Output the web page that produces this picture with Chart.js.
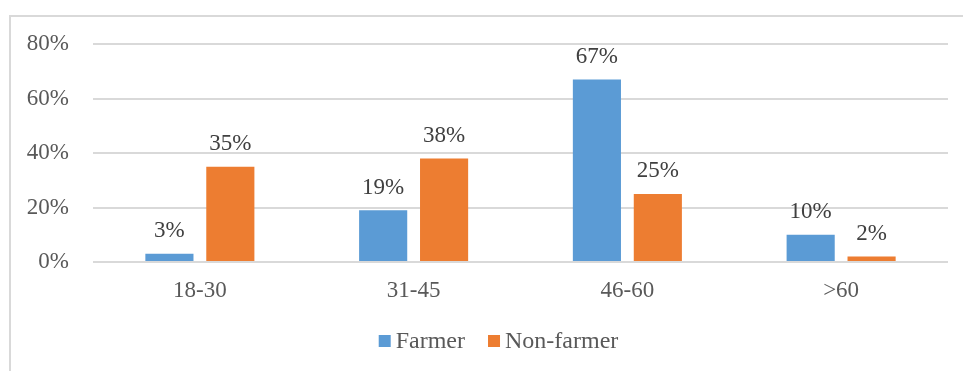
<!DOCTYPE html>
<html>
<head>
<meta charset="utf-8">
<script src="https://cdn.jsdelivr.net/npm/chart.js@4/dist/chart.umd.min.js"></script>
<style>
  html, body { margin: 0; padding: 0; background: #fff; }
  #wrap { width: 963px; height: 371px; position: relative; }
</style>
</head>
<body>
<div id="wrap"><canvas id="ageChart" width="963" height="371"></canvas></div>
<script>
// data
const categories = ['18-30', '31-45', '46-60', '>60'];
const farmer = [3, 19, 67, 10];
const nonFarmer = [35, 38, 25, 2];
const yTicks = [0, 20, 40, 60, 80];

const serif = '"Liberation Serif", "Times New Roman", serif';

// chart frame (top + left border like the Excel export)
const framePlugin = {
    id: 'frame',
    beforeDraw(chart) {
        const ctx = chart.ctx;
        ctx.save();
        ctx.strokeStyle = '#d9d9d9';
        ctx.lineWidth = 2;
        ctx.beginPath();
        ctx.moveTo(10, 371);
        ctx.lineTo(10, 16);
        ctx.lineTo(963, 16);
        ctx.stroke();
        ctx.restore();
    }
};

// value labels above each bar
const valueLabels = {
    id: 'valueLabels',
    afterDatasetsDraw(chart) {
        const ctx = chart.ctx;
        ctx.save();
        ctx.font = '23px ' + serif;
        ctx.fillStyle = '#404040';
        ctx.textAlign = 'center';
        ctx.textBaseline = 'bottom';
        chart.data.datasets.forEach((ds, i) => {
            chart.getDatasetMeta(i).data.forEach((bar, j) => {
                ctx.fillText(ds.data[j] + '%', bar.x, bar.y - 11);
            });
        });
        ctx.restore();
    }
};

// Excel-like legend: small square, short gap, text
const bottomLegend = {
    id: 'bottomLegend',
    afterDraw(chart) {
        const ctx = chart.ctx;
        const box = 12, gap = 5, itemGap = 23, y = 341;
        ctx.save();
        ctx.font = '24px ' + serif;
        ctx.textBaseline = 'middle';
        const items = chart.data.datasets.map(ds => ({
            text: ds.label, color: ds.backgroundColor, w: ctx.measureText(ds.label).width
        }));
        let total = 0;
        items.forEach((it, i) => { total += box + gap + it.w + (i ? itemGap : 0); });
        let x = (chart.chartArea.left + chart.chartArea.right) / 2 - total / 2 - 22;
        items.forEach(it => {
            ctx.fillStyle = it.color;
            ctx.fillRect(x, y - box / 2, box, box);
            ctx.fillStyle = '#595959';
            ctx.fillText(it.text, x + box + gap, y + 1);
            x += box + gap + it.w + itemGap;
        });
        ctx.restore();
    }
};

new Chart(document.getElementById('ageChart'), {
    type: 'bar',
    data: {
        labels: categories,
        datasets: [
            { label: 'Farmer', data: farmer, backgroundColor: '#5b9bd5' },
            { label: 'Non-farmer', data: nonFarmer, backgroundColor: '#ed7d31' }
        ]
    },
    options: {
        responsive: false,
        animation: false,
        devicePixelRatio: 1,
        categoryPercentage: 0.57,
        barPercentage: 0.79,
        layout: { padding: { left: 0, right: 15, top: 44, bottom: 0 } },
        plugins: {
            tooltip: { enabled: false },
            legend: { display: false }
        },
        scales: {
            x: {
                grid: { display: false, drawTicks: false },
                border: { display: false },
                ticks: {
                    color: '#595959',
                    padding: 15,
                    font: { size: 23, family: serif }
                },
                afterFit(scale) { scale.height = 109; }
            },
            y: {
                min: 0,
                max: 80,
                afterBuildTicks(scale) { scale.ticks = yTicks.map(v => ({ value: v })); },
                grid: { color: '#d9d9d9', lineWidth: 2, drawTicks: false },
                border: { display: false },
                ticks: {
                    color: '#595959',
                    padding: 24,
                    callback: v => v + '%',
                    font: { size: 23, family: serif }
                },
                afterFit(scale) { scale.width = 93; }
            }
        }
    },
    plugins: [framePlugin, valueLabels, bottomLegend]
});
</script>
</body>
</html>
